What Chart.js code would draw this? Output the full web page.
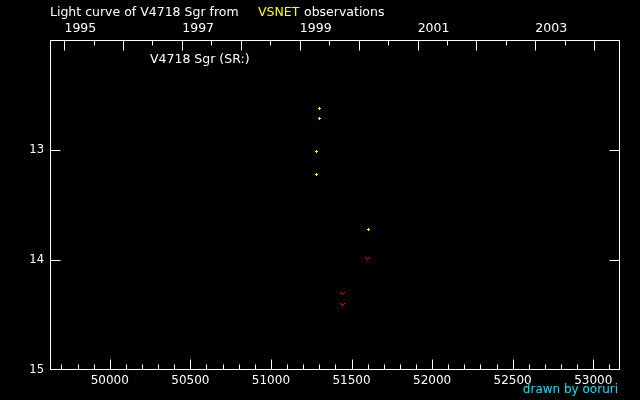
<!DOCTYPE html>
<html>
<head>
<meta charset="utf-8">
<script src="https://cdn.jsdelivr.net/npm/chart.js@4.4.0/dist/chart.umd.min.js"></script>
<style>
html,body{margin:0;padding:0;background:#000;}
canvas{display:block;background:#000;}
</style>
</head>
<body>
<canvas id="c" width="640" height="400"></canvas>
<script>
// ---- data (JD - 2400000, visual magnitude) ----
const posJD   = [51303, 51303, 51285, 51285, 51608];
const posMag  = [12.62, 12.71, 13.01, 13.22, 13.72];
const limJD   = [51602, 51446, 51446];
const limMag  = [13.99, 14.30, 14.40];

// ---- axis ticks ----
const jdMajorTicks = [50000, 50500, 51000, 51500, 52000, 52500, 53000];
const jdMinorTicks = [49700,49800,49900,50100,50200,50300,50400,50600,50700,50800,50900,51100,51200,51300,51400,51600,51700,51800,51900,52100,52200,52300,52400,52600,52700,52800,52900,53100];
const yearNames    = ['1995','1996','1997','1998','1999','2000','2001','2002','2003','2004'];
const yearStartJD  = [49718.5,50083.5,50449.5,50814.5,51179.5,51544.5,51910.5,52275.5,52640.5,53005.5];
const yearMidJD    = [49900,50265,50631,50996,51361,51726,52092,52457,52822];
const yearLabelled = ['1995','1997','1999','2001','2003'];
const magTicks     = [13, 14, 15];
const magInnerTicks= [13, 14];

const titleParts = [['Light curve of V4718 Sgr from', '#ffffff'], ['VSNET', '#ffff00'], ['observations', '#ffffff']];
const starLabel = 'V4718 Sgr (SR:)';
const creditText = 'drawn by ooruri';

const FONT = 'DejaVu Sans';

function pixelMark(w, h, color, pixels) {
  const c = document.createElement('canvas');
  c.width = w; c.height = h;
  const g = c.getContext('2d');
  g.fillStyle = color;
  pixels.forEach(p => g.fillRect(p[0], p[1], 1, 1));
  return c;
}
// "+" marker for observations, "V" marker for fainter-than observations
const plusMark = pixelMark(3, 3, '#ffff00', [[1,0],[0,1],[1,1],[2,1],[1,2]]);
const vMark = pixelMark(5, 3, '#ff0000', [[0,0],[4,0],[1,1],[3,1],[2,2]]);

const crispPlugin = {
  id: 'crisp',
  beforeDatasetsDraw(chart) { chart.ctx.save(); chart.ctx.imageSmoothingEnabled = false; },
  afterDatasetsDraw(chart) { chart.ctx.restore(); }
};

const framePlugin = {
  id: 'frame',
  afterDraw(chart) {
    const ctx = chart.ctx, ca = chart.chartArea;
    const xs = chart.scales.x, ys = chart.scales.y;
    const L = Math.round(ca.left) + 0.5, R = Math.round(ca.right) - 0.5;
    const T = Math.round(ca.top) + 0.5, B = Math.round(ca.bottom) - 0.5;
    ctx.save();
    ctx.strokeStyle = '#ffffff'; ctx.lineWidth = 1;
    ctx.strokeRect(L, T, R - L, B - T);
    ctx.beginPath();
    const vt = (v, y0, len) => { const px = Math.round(xs.getPixelForValue(v)) + 0.5; ctx.moveTo(px, y0); ctx.lineTo(px, y0 + len); };
    jdMajorTicks.forEach(v => vt(v, B, -10));
    jdMinorTicks.forEach(v => vt(v, B, -5));
    yearStartJD.forEach(v => vt(v, T, 10));
    yearMidJD.forEach(v => vt(v, T, 5));
    magInnerTicks.forEach(m => {
      const py = Math.round(ys.getPixelForValue(m)) + 0.5;
      ctx.moveTo(L, py); ctx.lineTo(L + 10, py);
      ctx.moveTo(R, py); ctx.lineTo(R - 10, py);
    });
    ctx.stroke();

    ctx.textBaseline = 'middle';
    ctx.textAlign = 'left';
    ctx.font = '12.5px "' + FONT + '"';
    const titleX = [50, 258, 304];
    titleParts.forEach((p, i) => { ctx.fillStyle = p[1]; ctx.fillText(p[0], titleX[i], 12.5); });
    ctx.fillStyle = '#ffffff';
    ctx.fillText(starLabel, 150, 60);
    ctx.fillStyle = '#00e5ff';
    ctx.textAlign = 'right';
    ctx.font = '12px "' + FONT + '"';
    ctx.fillText(creditText, 618, 390);
    ctx.restore();
  }
};

new Chart(document.getElementById('c'), {
  type: 'scatter',
  data: {
    datasets: [
      { label: 'obs', data: posJD.map((x, i) => ({x, y: posMag[i]})), pointStyle: plusMark, pointRadius: 2 },
      { label: 'fainter', data: limJD.map((x, i) => ({x, y: limMag[i]})), pointStyle: vMark, pointRadius: 3 }
    ]
  },
  options: {
    responsive: false,
    animation: false,
    devicePixelRatio: 1,
    layout: { padding: { left: 0, right: 20, top: 0, bottom: 0 } },
    plugins: { legend: { display: false }, tooltip: { enabled: false } },
    scales: {
      x: {
        type: 'linear', position: 'bottom', min: 49629, max: 53166,
        afterBuildTicks: s => { s.ticks = jdMajorTicks.map(v => ({value: v})); },
        afterFit: s => { s.height = 30; },
        grid: { display: false, drawTicks: false }, border: { display: false },
        ticks: { color: '#ffffff', padding: 4, maxRotation: 0, autoSkip: false,
                 font: { family: FONT, size: 12 }, callback: v => String(v) }
      },
      x2: {
        type: 'linear', position: 'top', min: 49629, max: 53166,
        afterBuildTicks: s => { s.ticks = yearStartJD.map(v => ({value: v})); },
        afterFit: s => { s.height = 40; },
        grid: { display: false, drawTicks: false }, border: { display: false },
        ticks: { color: '#ffffff', padding: 4, maxRotation: 0, autoSkip: false, align: 'start',
                 font: { family: FONT, size: 12.5 },
                 callback: v => { const n = yearNames[yearStartJD.indexOf(v)]; return yearLabelled.includes(n) ? n : ''; } }
      },
      y: {
        type: 'linear', position: 'left', min: 12, max: 15, reverse: true,
        afterBuildTicks: s => { s.ticks = magTicks.map(v => ({value: v})); },
        afterFit: s => { s.width = 50; },
        grid: { display: false, drawTicks: false }, border: { display: false },
        ticks: { color: '#ffffff', padding: 6, font: { family: FONT, size: 11.5 }, callback: v => String(v) }
      }
    }
  },
  plugins: [crispPlugin, framePlugin]
});
</script>
</body>
</html>
